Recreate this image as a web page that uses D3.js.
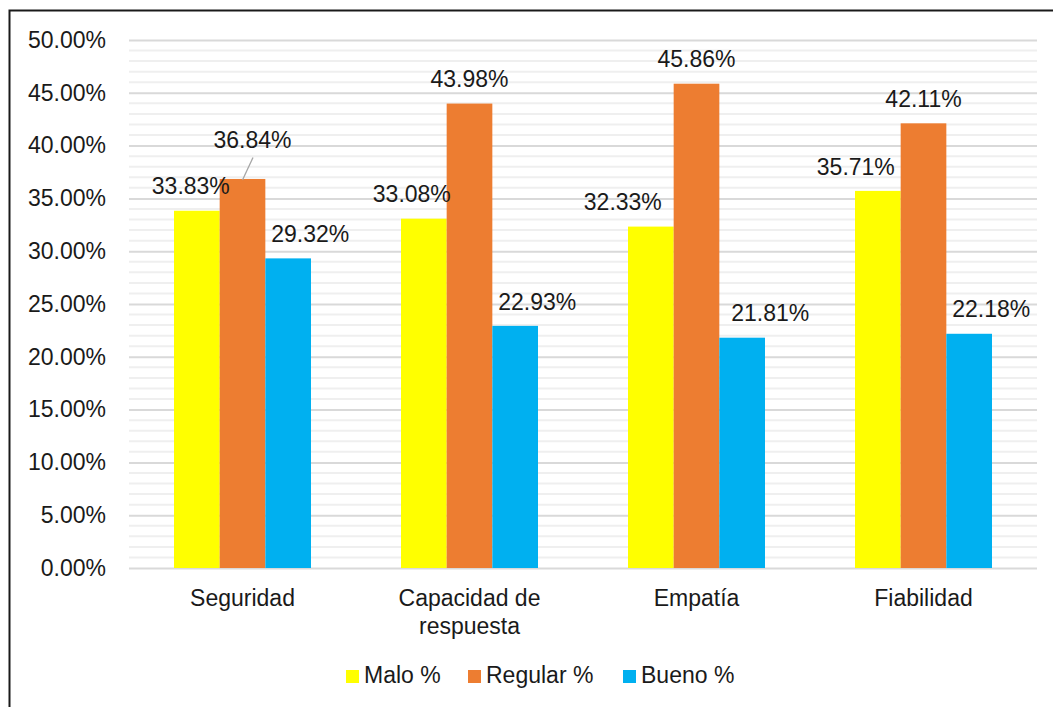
<!DOCTYPE html>
<html>
<head>
<meta charset="utf-8">
<script src="https://cdn.jsdelivr.net/npm/d3@7"></script>
<style>
  html, body { margin: 0; padding: 0; background: #fff; }
  svg { display: block; font-family: "Liberation Sans", Arial, sans-serif; }
</style>
</head>
<body>
<svg id="chart" width="1053" height="707"></svg>
<script>
// ---- data ----
const categories = ["Seguridad", "Capacidad de respuesta", "Empatía", "Fiabilidad"];
const seriesNames = ["Malo %", "Regular %", "Bueno %"];
const malo    = [0.3383, 0.3308, 0.3233, 0.3571];
const regular = [0.3684, 0.4398, 0.4586, 0.4211];
const bueno   = [0.2932, 0.2293, 0.2181, 0.2218];
const yTicks  = [0, 0.05, 0.10, 0.15, 0.20, 0.25, 0.30, 0.35, 0.40, 0.45, 0.50];

(function () {
// ---- styles / layout ----
const colors = ["#FFFF00", "#ED7D31", "#00B0F0"];
const seriesValues = [malo, regular, bueno];
// manual label nudges (px) as in the reference, [series][category]
const labelDx = [[-6, -12, -28, -22], [10, 0, 0, 0], [22, 22, 28, 22]];
const labelDy = [[0, 0, 0, 0], [-15, 0, 0, 0], [0, 0, 0, 0]];

const svg = d3.select("#chart");
const pLeft = 129, pRight = 1037, pTop = 40, pBottom = 568;
const fontSize = 23;

// outer border
svg.append("rect").attr("x", 9.5).attr("y", 10.5).attr("width", 1070).attr("height", 720)
  .attr("fill", "none").attr("stroke", "#1a1a1a").attr("stroke-width", 2);

const y = d3.scaleLinear().domain([0, 0.5]).range([pBottom, pTop]);
const x0 = d3.scaleBand().domain(categories).range([pLeft, pRight])
  .paddingInner(0.3965).paddingOuter(0.19825);
const x1 = d3.scaleBand().domain(seriesNames).range([0, x0.bandwidth()]).padding(0);

// minor gridlines
const minor = d3.range(0, 0.5001, 0.01).filter(v => Math.round(v * 100) % 5 !== 0);
svg.append("g").selectAll("line").data(minor).join("line")
  .attr("x1", pLeft).attr("x2", pRight)
  .attr("y1", d => y(d)).attr("y2", d => y(d))
  .attr("stroke", "#efefef").attr("stroke-width", 2);

// major gridlines via axis
const yAxis = d3.axisLeft(y).tickValues(yTicks).tickSize(-(pRight - pLeft))
  .tickFormat(d => (d * 100).toFixed(2) + "%").tickPadding(23);
const gy = svg.append("g").attr("transform", `translate(${pLeft},0)`).call(yAxis);
gy.select(".domain").remove();
gy.selectAll(".tick line").attr("stroke", "#d9d9d9").attr("stroke-width", 2);
gy.selectAll(".tick text").attr("font-size", fontSize).attr("fill", "#1a1a1a")
  .attr("font-family", "Liberation Sans, Arial, sans-serif");

// bars
const groups = svg.append("g").selectAll("g").data(categories).join("g")
  .attr("transform", d => `translate(${x0(d)},0)`);
groups.selectAll("rect")
  .data((c, ci) => seriesNames.map((s, si) => ({ s, si, ci, v: seriesValues[si][ci] })))
  .join("rect")
  .attr("x", d => x1(d.s)).attr("width", x1.bandwidth())
  .attr("y", d => y(d.v)).attr("height", d => y(0) - y(d.v))
  .attr("fill", d => colors[d.si]);

// data labels
const labelData = [];
categories.forEach((c, ci) => seriesNames.forEach((s, si) => {
  labelData.push({ c, ci, s, si, v: seriesValues[si][ci] });
}));
const lab = svg.append("g");
labelData.forEach(d => {
  const bx = x0(d.c) + x1(d.s) + x1.bandwidth() / 2;
  const by = y(d.v);
  const cx = bx + labelDx[d.si][d.ci];
  const cy = by - 24.5 + labelDy[d.si][d.ci];
  if (labelDy[d.si][d.ci] !== 0) {
    lab.append("line").attr("x1", cx + 0.5).attr("y1", cy + 18)
      .attr("x2", bx).attr("y2", by + 1)
      .attr("stroke", "#a6a6a6").attr("stroke-width", 1.3);
  }
  lab.append("text").attr("x", cx).attr("y", cy + 8.2)
    .attr("text-anchor", "middle").attr("font-size", fontSize).attr("fill", "#1a1a1a")
    .text((d.v * 100).toFixed(2) + "%");
});

// category labels (wrapped)
const catLines = { "Capacidad de respuesta": ["Capacidad de", "respuesta"] };
const cl = svg.append("g");
categories.forEach(c => {
  const lines = catLines[c] || [c];
  lines.forEach((t, i) => {
    cl.append("text").attr("x", x0(c) + x0.bandwidth() / 2).attr("y", 606 + i * 28)
      .attr("text-anchor", "middle").attr("font-size", fontSize).attr("fill", "#1a1a1a")
      .text(t);
  });
});

// legend
const legendX = [346, 468, 623];
const lg = svg.append("g");
seriesNames.forEach((s, i) => {
  lg.append("rect").attr("x", legendX[i]).attr("y", 670).attr("width", 13).attr("height", 13)
    .attr("fill", colors[i]);
  lg.append("text").attr("x", legendX[i] + 18).attr("y", 683)
    .attr("font-size", fontSize).attr("fill", "#1a1a1a").text(s);
});
})();
</script>
</body>
</html>
